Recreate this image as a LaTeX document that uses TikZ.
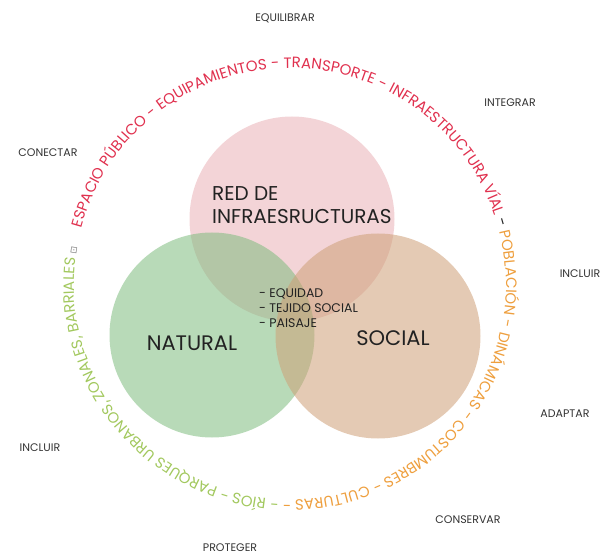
\documentclass[tikz,border=0pt]{standalone}
\usepackage{fontspec}
\setmainfont{Poppins}
\newfontfamily\symfont{DejaVu Sans}
\usepackage{xcolor}
\usepackage{tikz}
\usetikzlibrary{decorations.text,calc}
\definecolor{infra}{HTML}{E9B1B6}
\definecolor{natural}{HTML}{7EBC7E}
\definecolor{social}{HTML}{CE9F77}
\definecolor{ringred}{HTML}{E0304E}
\definecolor{ringorange}{HTML}{EE9F3E}
\definecolor{ringgreen}{HTML}{A2C85E}
\definecolor{ink}{HTML}{222222}
\definecolor{muted}{HTML}{333333}
\newcommand\ringfont{\fontsize{15}{15}\selectfont}

\begin{document}
\begin{tikzpicture}[x=1pt,y=1pt,
  venn/.style={circle,minimum size=205pt,inner sep=0pt,fill opacity=0.55},
  verb/.style={font=\fontsize{11}{13}\selectfont,text=muted,inner sep=0pt},
  core/.style={font=\fontsize{21}{24}\selectfont,text=ink,inner sep=0pt}]
\useasboundingbox (0,0) rectangle (603,558);
% the three circles
\node[venn,fill=infra] (infra) at (292,339) {};
\node[venn,fill=natural] (natural) at (212,223) {};
\node[venn,fill=social] (social) at (378,222) {};
\node[core,font=\fontsize{20}{23}\selectfont,align=left,anchor=north west] (infralbl) at (212,372) {RED DE\\INFRAESRUCTURAS};
\node[core] (naturallbl) at (192,215) {NATURAL};
\node[core] (sociallbl) at (393,220) {SOCIAL};
\node[align=left,anchor=west,inner sep=0pt,text=ink,font=\fontsize{12.5}{15}\selectfont] (shared) at (259,250) {- EQUIDAD\\- TEJIDO SOCIAL\\- PAISAJE};
% ring of texts
\coordinate (ring) at (290,274);
\path[decorate,decoration={text along path,text align=left,
  text={|\ringfont\color{ringred}|ESPACIO PÚBLICO - EQUIPAMIENTOS - TRANSPORTE - INFRAESTRUCTURA VÍAL |\ringfont\color{ink}|- |\ringfont\color{ringorange}|POBLACIÓN - DINÁMICAS - COSTUMBRES - CULTURAS - |\ringfont\color{ringgreen}|- RÍOS - PARQUES URBANOS, ZONALES, BARRIALES |\symfont\fontsize{9}{9}\selectfont\color{gray}|⊡}}]
  ($(ring)+(165:216)$) arc[start angle=165,end angle=-193,radius=216];
% verbs around
\node[verb] (equilibrar) at (285,540) {EQUILIBRAR};
\node[verb] (integrar) at (510,455) {INTEGRAR};
\node[verb] (conectar) at (48,405) {CONECTAR};
\node[verb] (incluirR) at (580,284) {INCLUIR};
\node[verb] (adaptar) at (565,144) {ADAPTAR};
\node[verb] (incluirL) at (40,110) {INCLUIR};
\node[verb] (conservar) at (468,38) {CONSERVAR};
\node[verb] (proteger) at (230,10) {PROTEGER};
\end{tikzpicture}
\end{document}
